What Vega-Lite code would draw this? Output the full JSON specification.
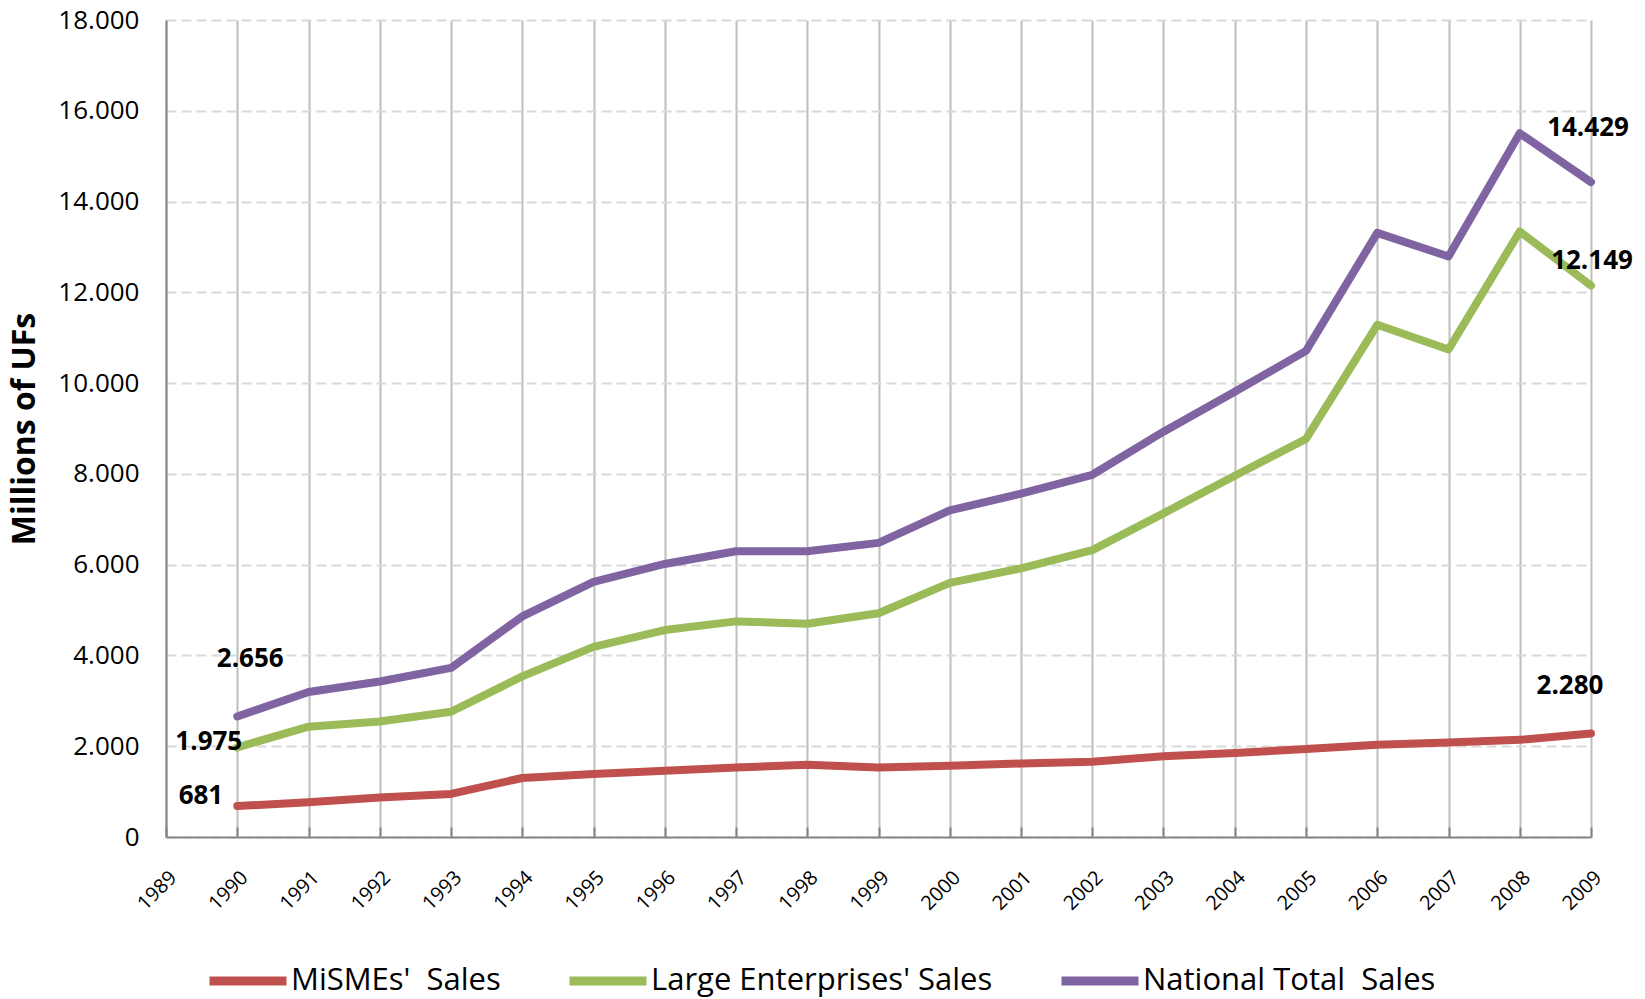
{
  "$schema": "https://vega.github.io/schema/vega-lite/v6.json",
  "autosize": {"type": "none"},
  "width": 1425,
  "height": 817,
  "padding": {"left": 166, "top": 20, "right": 54, "bottom": 162},
  "background": "white",
  "config": {
    "locale": {"number": {"decimal": ",", "thousands": ".", "grouping": [3], "currency": ["$", ""]}},
    "view": {"stroke": null},
    "font": "Open Sans"
  },
  "data": {"values": [
    {"year": 1990, "series": "MiSMEs'  Sales", "value": 681},
    {"year": 1991, "series": "MiSMEs'  Sales", "value": 764},
    {"year": 1992, "series": "MiSMEs'  Sales", "value": 870},
    {"year": 1993, "series": "MiSMEs'  Sales", "value": 950},
    {"year": 1994, "series": "MiSMEs'  Sales", "value": 1300},
    {"year": 1995, "series": "MiSMEs'  Sales", "value": 1390},
    {"year": 1996, "series": "MiSMEs'  Sales", "value": 1460},
    {"year": 1997, "series": "MiSMEs'  Sales", "value": 1530},
    {"year": 1998, "series": "MiSMEs'  Sales", "value": 1590},
    {"year": 1999, "series": "MiSMEs'  Sales", "value": 1530},
    {"year": 2000, "series": "MiSMEs'  Sales", "value": 1570},
    {"year": 2001, "series": "MiSMEs'  Sales", "value": 1620},
    {"year": 2002, "series": "MiSMEs'  Sales", "value": 1660},
    {"year": 2003, "series": "MiSMEs'  Sales", "value": 1780},
    {"year": 2004, "series": "MiSMEs'  Sales", "value": 1850},
    {"year": 2005, "series": "MiSMEs'  Sales", "value": 1940},
    {"year": 2006, "series": "MiSMEs'  Sales", "value": 2030},
    {"year": 2007, "series": "MiSMEs'  Sales", "value": 2080},
    {"year": 2008, "series": "MiSMEs'  Sales", "value": 2140},
    {"year": 2009, "series": "MiSMEs'  Sales", "value": 2280},
    {"year": 1990, "series": "Large Enterprises' Sales", "value": 1975},
    {"year": 1991, "series": "Large Enterprises' Sales", "value": 2430},
    {"year": 1992, "series": "Large Enterprises' Sales", "value": 2545},
    {"year": 1993, "series": "Large Enterprises' Sales", "value": 2760},
    {"year": 1994, "series": "Large Enterprises' Sales", "value": 3540},
    {"year": 1995, "series": "Large Enterprises' Sales", "value": 4190},
    {"year": 1996, "series": "Large Enterprises' Sales", "value": 4560},
    {"year": 1997, "series": "Large Enterprises' Sales", "value": 4750},
    {"year": 1998, "series": "Large Enterprises' Sales", "value": 4700},
    {"year": 1999, "series": "Large Enterprises' Sales", "value": 4930},
    {"year": 2000, "series": "Large Enterprises' Sales", "value": 5600},
    {"year": 2001, "series": "Large Enterprises' Sales", "value": 5920},
    {"year": 2002, "series": "Large Enterprises' Sales", "value": 6320},
    {"year": 2003, "series": "Large Enterprises' Sales", "value": 7130},
    {"year": 2004, "series": "Large Enterprises' Sales", "value": 7960},
    {"year": 2005, "series": "Large Enterprises' Sales", "value": 8770},
    {"year": 2006, "series": "Large Enterprises' Sales", "value": 11285},
    {"year": 2007, "series": "Large Enterprises' Sales", "value": 10740},
    {"year": 2008, "series": "Large Enterprises' Sales", "value": 13340},
    {"year": 2009, "series": "Large Enterprises' Sales", "value": 12149},
    {"year": 1990, "series": "National Total  Sales", "value": 2656},
    {"year": 1991, "series": "National Total  Sales", "value": 3195},
    {"year": 1992, "series": "National Total  Sales", "value": 3425},
    {"year": 1993, "series": "National Total  Sales", "value": 3725},
    {"year": 1994, "series": "National Total  Sales", "value": 4860},
    {"year": 1995, "series": "National Total  Sales", "value": 5620},
    {"year": 1996, "series": "National Total  Sales", "value": 6015},
    {"year": 1997, "series": "National Total  Sales", "value": 6295},
    {"year": 1998, "series": "National Total  Sales", "value": 6295},
    {"year": 1999, "series": "National Total  Sales", "value": 6480},
    {"year": 2000, "series": "National Total  Sales", "value": 7195},
    {"year": 2001, "series": "National Total  Sales", "value": 7565},
    {"year": 2002, "series": "National Total  Sales", "value": 7980},
    {"year": 2003, "series": "National Total  Sales", "value": 8930},
    {"year": 2004, "series": "National Total  Sales", "value": 9810},
    {"year": 2005, "series": "National Total  Sales", "value": 10710},
    {"year": 2006, "series": "National Total  Sales", "value": 13310},
    {"year": 2007, "series": "National Total  Sales", "value": 12790},
    {"year": 2008, "series": "National Total  Sales", "value": 15505},
    {"year": 2009, "series": "National Total  Sales", "value": 14429}
  ]},
  "encoding": {
    "x": {
      "field": "year", "type": "quantitative",
      "scale": {"domain": [1989, 2009], "nice": false, "zero": false},
      "axis": {
        "title": null,
        "values": [1989, 1989.5, 1990, 1990.5, 1991, 1991.5, 1992, 1992.5, 1993, 1993.5, 1994, 1994.5, 1995, 1995.5, 1996, 1996.5, 1997, 1997.5, 1998, 1998.5, 1999, 1999.5, 2000, 2000.5, 2001, 2001.5, 2002, 2002.5, 2003, 2003.5, 2004, 2004.5, 2005, 2005.5, 2006, 2006.5, 2007, 2007.5, 2008, 2008.5, 2009],
        "format": "d",
        "labelExpr": "datum.value % 1 === 0 ? datum.label : ''",
        "labelAngle": -45,
        "labelFontSize": 20,
        "labelColor": "#000000",
        "labelPadding": 40,
        "labelFont": "Open Sans",
        "labelOverlap": false,
        "grid": true,
        "gridColor": "#BDBDBD",
        "gridWidth": 2,
        "domainColor": "#868686",
        "domainWidth": 2,
        "tickSize": -10,
        "tickWidth": 2,
        "tickColor": {"condition": {"test": "datum.value % 1 === 0", "value": "#868686"}, "value": "rgba(0,0,0,0)"}
      }
    },
    "y": {
      "field": "value", "type": "quantitative",
      "scale": {"domain": [0, 18000], "nice": false},
      "axis": {
        "title": "Millions of UFs",
        "titleFontSize": 32,
        "titleFontWeight": "bold",
        "titleColor": "#000000",
        "titleFont": "Open Sans",
        "titlePadding": 16,
        "values": [0, 2000, 4000, 6000, 8000, 10000, 12000, 14000, 16000, 18000],
        "format": ",d",
        "labelFontSize": 26,
        "labelColor": "#000000",
        "labelFont": "Open Sans",
        "labelPadding": 27,
        "ticks": false,
        "grid": true,
        "gridColor": "#D9D9D9",
        "gridWidth": 2,
        "gridDash": [10, 5],
        "domainColor": "#868686",
        "domainWidth": 2
      }
    }
  },
  "layer": [
    {
      "mark": {"type": "line", "strokeWidth": 8, "strokeJoin": "round", "strokeCap": "round"},
      "encoding": {
        "color": {
          "field": "series", "type": "nominal",
          "scale": {"domain": ["MiSMEs'  Sales", "Large Enterprises' Sales", "National Total  Sales"], "range": ["#C0504D", "#9BBB59", "#8064A2"]},
          "legend": {
            "title": null,
            "orient": "none",
            "direction": "horizontal",
            "columns": 3,
            "legendX": 39,
            "legendY": 918,
            "symbolType": "stroke",
            "symbolSize": 5929,
            "symbolStrokeWidth": 9,
            "labelFontSize": 31,
            "labelFont": "Open Sans",
            "labelColor": "#000000",
            "labelOffset": 0,
            "labelExpr": "replace(datum.label, '  ', ' \u00a0')",
            "columnPadding": 50,
            "labelLimit": 600
          }
        }
      }
    },
    {
      "transform": [{"filter": "datum.year === 1990 && datum.series === 'National Total  Sales'"}],
      "mark": {"type": "text", "fontSize": 26, "fontWeight": "bold", "align": "center", "baseline": "middle", "dx": 13, "dy": -57, "color": "#000000"},
      "encoding": {"text": {"field": "value", "type": "quantitative", "format": ",d"}}
    },
    {
      "transform": [{"filter": "datum.year === 1990 && datum.series === \"Large Enterprises' Sales\""}],
      "mark": {"type": "text", "fontSize": 26, "fontWeight": "bold", "align": "right", "baseline": "middle", "dx": 5, "dy": -5, "color": "#000000"},
      "encoding": {"text": {"field": "value", "type": "quantitative", "format": ",d"}}
    },
    {
      "transform": [{"filter": "datum.year === 1990 && datum.series === \"MiSMEs'  Sales\""}],
      "mark": {"type": "text", "fontSize": 26, "fontWeight": "bold", "align": "right", "baseline": "middle", "dx": -14, "dy": -10, "color": "#000000"},
      "encoding": {"text": {"field": "value", "type": "quantitative", "format": ",d"}}
    },
    {
      "transform": [{"filter": "datum.year === 2009 && datum.series === 'National Total  Sales'"}],
      "mark": {"type": "text", "fontSize": 26, "fontWeight": "bold", "align": "center", "baseline": "middle", "dx": -3, "dy": -54, "color": "#000000"},
      "encoding": {"text": {"field": "value", "type": "quantitative", "format": ",d"}}
    },
    {
      "transform": [{"filter": "datum.year === 2009 && datum.series === \"Large Enterprises' Sales\""}],
      "mark": {"type": "text", "fontSize": 26, "fontWeight": "bold", "align": "center", "baseline": "middle", "dx": 1, "dy": -25, "color": "#000000"},
      "encoding": {"text": {"field": "value", "type": "quantitative", "format": ",d"}}
    },
    {
      "transform": [{"filter": "datum.year === 2009 && datum.series === \"MiSMEs'  Sales\""}],
      "mark": {"type": "text", "fontSize": 26, "fontWeight": "bold", "align": "center", "baseline": "middle", "dx": -21, "dy": -48, "color": "#000000"},
      "encoding": {"text": {"field": "value", "type": "quantitative", "format": ",d"}}
    }
  ]
}
